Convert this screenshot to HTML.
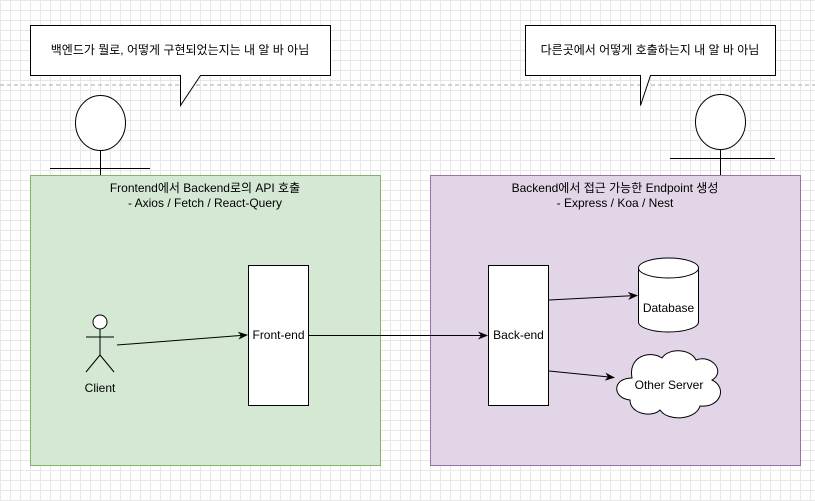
<!DOCTYPE html>
<html><head><meta charset="utf-8"><style>
body{margin:0;width:815px;height:496px;overflow:hidden;background:#fff;
background-image:linear-gradient(#e8e8e8 1px,transparent 1px),linear-gradient(90deg,#e8e8e8 1px,transparent 1px);background-size:10px 10px;}
text{font-family:"Liberation Sans","Noto Sans CJK KR",sans-serif;font-size:12px;fill:#000}
</style></head><body>
<svg width="815" height="496" xmlns="http://www.w3.org/2000/svg">
<defs><marker id="a" markerWidth="10" markerHeight="10" refX="9" refY="5" orient="auto" markerUnits="userSpaceOnUse"><path d="M0,1 L10,5 L0,9 L3,5Z" fill="#000"/></marker></defs>
<line x1="0" y1="85" x2="815" y2="85" stroke="#aaa" stroke-dasharray="4,3"/>
<!-- left callout -->
<path d="M30.5,25.5 H330.5 V75.5 H200.5 L180.5,105.5 V75.5 H30.5Z" fill="#fff" stroke="#000"/>
<text x="180" y="54" text-anchor="middle">백엔드가 뭘로, 어떻게 구현되었는지는 내 알 바 아님</text>
<ellipse cx="100.5" cy="123" rx="25" ry="27.5" fill="#fff" stroke="#000"/>
<line x1="100.5" y1="150" x2="100.5" y2="175" stroke="#000"/>
<line x1="50" y1="168.5" x2="150" y2="168.5" stroke="#000"/>
<!-- right callout -->
<path d="M525.5,25.5 H775.5 V75.5 H650.5 L640.5,105.5 V75.5 H525.5Z" fill="#fff" stroke="#000"/>
<text x="650" y="54" text-anchor="middle">다른곳에서 어떻게 호출하는지 내 알 바 아님</text>
<ellipse cx="720.5" cy="122" rx="25" ry="27.5" fill="#fff" stroke="#000"/>
<line x1="720.5" y1="149" x2="720.5" y2="175" stroke="#000"/>
<line x1="670" y1="158.5" x2="775" y2="158.5" stroke="#000"/>
<!-- containers -->
<rect x="30.5" y="175.5" width="350" height="290" fill="#d5e8d4" stroke="#82b366"/>
<text x="205" y="192" text-anchor="middle">Frontend에서 Backend로의 API 호출</text>
<text x="205" y="207" text-anchor="middle">- Axios / Fetch / React-Query</text>
<rect x="430.5" y="175.5" width="370" height="290" fill="#e1d5e7" stroke="#9673a6"/>
<text x="615" y="192" text-anchor="middle">Backend에서 접근 가능한 Endpoint 생성</text>
<text x="615" y="207" text-anchor="middle">- Express / Koa / Nest</text>
<!-- client -->
<circle cx="100" cy="322" r="7" fill="#fff" stroke="#000"/>
<line x1="100" y1="329" x2="100" y2="355" stroke="#000"/>
<line x1="86" y1="337" x2="114" y2="337" stroke="#000"/>
<line x1="100" y1="355" x2="86" y2="372" stroke="#000"/>
<line x1="100" y1="355" x2="114" y2="372" stroke="#000"/>
<text x="100" y="392" text-anchor="middle">Client</text>
<!-- front / back -->
<rect x="248.5" y="265.5" width="60" height="140" fill="#fff" stroke="#000"/>
<text x="278.5" y="339" text-anchor="middle">Front-end</text>
<rect x="488.5" y="265.5" width="60" height="140" fill="#fff" stroke="#000"/>
<text x="518.5" y="339" text-anchor="middle">Back-end</text>
<line x1="117" y1="345" x2="247" y2="335" stroke="#000" marker-end="url(#a)"/>
<line x1="309" y1="335.5" x2="487" y2="335.5" stroke="#000" marker-end="url(#a)"/>
<!-- database -->
<path d="M638.5,268 V322 A30,10 0 0 0 698.5,322 V268 A30,10 0 0 0 638.5,268Z" fill="#fff" stroke="#000"/>
<path d="M638.5,268 A30,10 0 0 0 698.5,268" fill="none" stroke="#000"/>
<text x="668.5" y="312" text-anchor="middle">Database</text>
<line x1="549" y1="300" x2="637" y2="295.5" stroke="#000" marker-end="url(#a)"/>
<!-- cloud -->
<path d="M632,378 C612,378 612,398 630,400 C630,414 652,418 660,410 C668,422 696,420 700,406 C720,408 728,388 712,380 C726,372 712,354 696,360 C690,348 668,348 662,358 C650,350 628,356 632,378Z" fill="#fff" stroke="#000"/>
<text x="669" y="389" text-anchor="middle">Other Server</text>
<line x1="549" y1="371" x2="614" y2="377.5" stroke="#000" marker-end="url(#a)"/>
</svg>
</body></html>
